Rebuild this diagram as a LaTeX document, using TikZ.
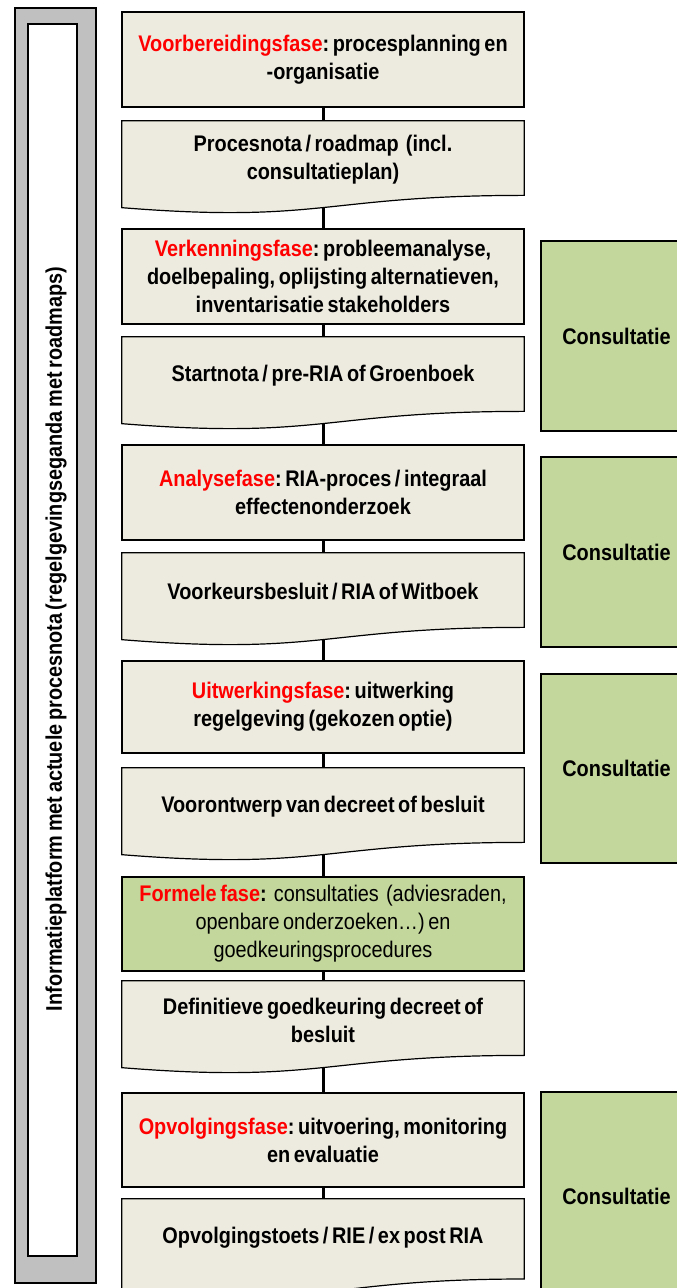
\documentclass[tikz,border=0pt]{standalone}
\usepackage{fontspec}
\setmainfont{Liberation Sans}[FakeStretch=0.88,WordSpace=0.65]
\frenchspacing
\usetikzlibrary{calc,backgrounds}

\definecolor{boxfill}{HTML}{EDEBE0}
\definecolor{consgreen}{HTML}{C3D69B}
\definecolor{bargray}{HTML}{C0C0C0}
\definecolor{phasered}{HTML}{FF0000}

\newcommand\phase[1]{\textcolor{phasered}{#1}}
% wavy "document" outline below a text node; #2 = full height of the sheet
\newcommand\docoutline[2]{%
  \path[docshape] (#1.north west) -- (#1.north east)
    -- ($(#1.north east)+(0,0.802*#2)$)
    .. controls ($(#1.north)+(0,0.802*#2)$) and ($(#1.north)+(0,1.1075*#2)$)
    .. ($(#1.north west)+(0,0.934*#2)$) -- cycle;}

\begin{document}
\begin{tikzpicture}[x=1pt,y=-1pt,
  txt/.style={font=\fontsize{22.6}{28}\selectfont\bfseries},
  stepbox/.style={txt, draw=black, line width=1.2pt, fill=boxfill,
    minimum width=402pt, inner sep=0pt, align=center},
  formbox/.style={stepbox, fill=consgreen, font=\fontsize{22.6}{28}\selectfont},
  doctext/.style={txt, minimum width=402pt, minimum height=78pt,
    inner sep=0pt, align=center},
  docshape/.style={draw=black, line width=1.2pt, fill=boxfill},
  consbox/.style={txt, draw=black, line width=1.2pt, fill=consgreen,
    minimum width=151pt, inner sep=0pt},
  conn/.style={draw=black, line width=3pt},
  barbox/.style={draw=black, line width=1.5pt, inner sep=0pt}]
\useasboundingbox (0,0) rectangle (677,1288);
\clip (0,0) rectangle (677,1288);

% information platform bar on the left
\node[barbox, fill=bargray, minimum width=81pt, minimum height=1275pt] (bar) at (55.5,645.5) {};
\node[barbox, fill=white, minimum width=49pt, minimum height=1232pt] (barinner) at (52.5,640) {};
\node[txt, rotate=90] (bartext) at (56,639)
  {Informatieplatform met actuele procesnota (regelgevingseganda met roadmaps)};

% phases and their products
\node[stepbox, minimum height=95pt] (r1) at (323,59.5)
  {\phase{Voorbereidingsfase}: procesplanning en\\-organisatie};
\node[doctext] (d2) at (323,160) {Procesnota / roadmap\ \ (incl.\\consultatieplan)};
\node[stepbox, minimum height=95pt] (r3) at (323,276.5)
  {\phase{Verkenningsfase}: probleemanalyse,\\doelbepaling, oplijsting alternatieven,\\inventarisatie stakeholders};
\node[doctext] (d4) at (323,376) {Startnota / pre-RIA of Groenboek};
\node[stepbox, minimum height=95pt] (r5) at (323,492.5)
  {\phase{Analysefase}: RIA-proces / integraal\\effectenonderzoek};
\node[doctext] (d6) at (323,592) {Voorkeursbesluit / RIA of Witboek};
\node[stepbox, minimum height=92pt] (r7) at (323,707)
  {\phase{Uitwerkingsfase}: uitwerking\\regelgeving (gekozen optie)};
\node[doctext] (d8) at (323,807) {Voorontwerp van decreet of besluit};
\node[formbox, minimum height=94pt] (r9) at (323,924)
  {\textbf{\phase{Formele fase}:}\ \ consultaties\ \ (adviesraden,\\openbare onderzoeken\dots) en\\goedkeuringsprocedures};
\node[doctext] (d10) at (323,1020) {Definitieve goedkeuring decreet of\\besluit};
\node[stepbox, minimum height=94pt] (r11) at (323,1140)
  {\phase{Opvolgingsfase}: uitvoering, monitoring\\en evaluatie};
\node[doctext] (d12) at (323,1238) {Opvolgingstoets / RIE / ex post RIA};

% consultation blocks
\node[consbox, minimum height=190pt] (c1) at (616.5,336) {Consultatie};
\node[consbox, minimum height=190pt] (c2) at (616.5,552) {Consultatie};
\node[consbox, minimum height=189pt] (c3) at (616.5,768.5) {Consultatie};
\node[consbox, minimum height=208pt] (c4) at (616.5,1196) {Consultatie};

\begin{scope}[on background layer]
  \draw[conn] (r1.south) -- (d2.north);
  \draw[conn] (d2.south) -- (r3.north);
  \draw[conn] (r3.south) -- (d4.north);
  \draw[conn] (d4.south) -- (r5.north);
  \draw[conn] (r5.south) -- (d6.north);
  \draw[conn] (d6.south) -- (r7.north);
  \draw[conn] (r7.south) -- (d8.north);
  \draw[conn] (d8.south) -- (r9.north);
  \draw[conn] (r9.south) -- (d10.north);
  \draw[conn] (d10.south) -- (r11.north);
  \draw[conn] (r11.south) -- (d12.north);
  \docoutline{d2}{93}
  \docoutline{d4}{93}
  \docoutline{d6}{93}
  \docoutline{d8}{93}
  \docoutline{d10}{93}
  \docoutline{d12}{100}
\end{scope}
\end{tikzpicture}
\end{document}
